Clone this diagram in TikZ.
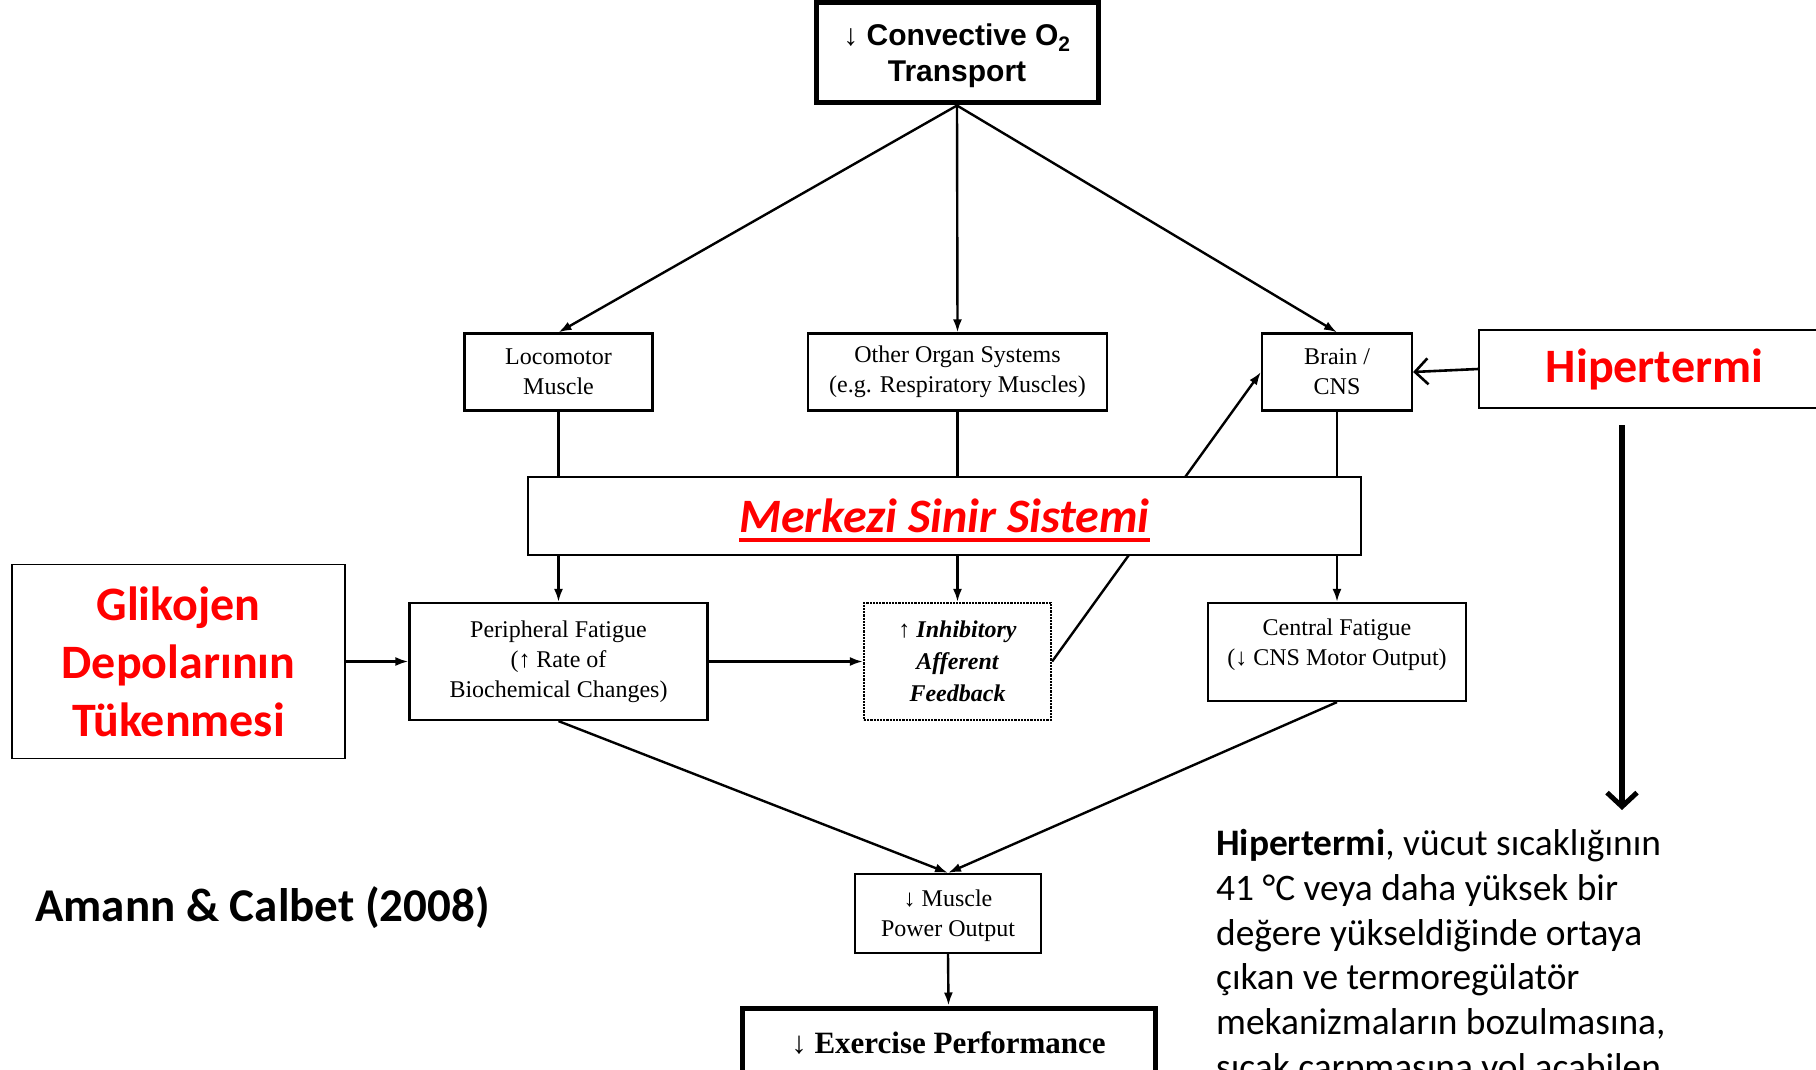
\documentclass[tikz,border=0pt]{standalone}
\usepackage{fontspec}
\setmainfont{Liberation Serif}
\newfontfamily\headsans{Liberation Sans}
\newfontfamily\calibri{Carlito}
\usetikzlibrary{arrows.meta}
\newcommand{\thickul}[1]{\setbox0\hbox{#1}\rlap{\rule[-9pt]{\wd0}{3.5pt}}\box0}

\begin{document}
\begin{tikzpicture}[x=1pt,y=-1pt,
    box/.style={draw,line width=2.2pt,inner sep=0pt,align=center,font=\fontsize{24}{30}\selectfont},
    thickbox/.style={draw,line width=5pt,inner sep=0pt,align=center},
    redbox/.style={draw,line width=1.8pt,inner sep=0pt,align=center,text=red,font=\calibri\bfseries\fontsize{48}{58}\selectfont},
    arr/.style={line width=2.4pt,-{Latex[length=13pt,width=9pt]}},
    barb/.style={line width=2.6pt,-{Straight Barb[length=13pt,width=26pt,line width=2.6pt]}}]
    \useasboundingbox (0,0) rectangle (1816,1070);

    % flow chart
    \node[thickbox,minimum width=282pt,minimum height=100pt,text depth=0pt,font=\headsans\bfseries\fontsize{30}{36}\selectfont] (cot) at (957,53) {↓ Convective O\textsubscript{2}\\Transport};

    \node[box,minimum width=188pt,minimum height=77pt] (loco) at (558.5,372) {Locomotor\\Muscle};
    \node[box,minimum width=299pt,minimum height=77pt] (oos) at (957.5,372) {Other Organ Systems\\(e.g. Respiratory Muscles)};
    \node[box,minimum width=150pt,minimum height=77pt] (cns) at (1337,372) {Brain /\\CNS};

    \node[box,minimum width=298pt,minimum height=117pt] (pfat) at (558.5,661.5) {Peripheral Fatigue\\(↑ Rate of\\Biochemical Changes)};
    \node[box,densely dotted,minimum width=187pt,minimum height=117pt,font=\bfseries\itshape\fontsize{24}{32}\selectfont] (iaf) at (957.5,661.5) {↑ Inhibitory\\Afferent\\Feedback};
    \node[box,minimum width=258pt,minimum height=98pt,text depth=19pt] (cfat) at (1337,652) {Central Fatigue\\(↓ CNS Motor Output)};

    \node[box,minimum width=186pt,minimum height=79pt,text depth=0pt] (mpo) at (948,913.5) {↓ Muscle\\Power Output};
    \node[thickbox,minimum width=413pt,minimum height=70pt,font=\bfseries\fontsize{31}{37}\selectfont] (exp) at (948.5,1043) {↓ Exercise Performance};

    % added notes
    \node[redbox,minimum width=333pt,minimum height=194pt] (glik) at (178.5,661.5) {Glikojen\\Depolarının\\Tükenmesi};
    \node[redbox,minimum width=351pt,minimum height=78pt] (hip) at (1654.5,369) {Hipertermi};

    \node[anchor=west,inner sep=0pt,font=\calibri\bfseries\fontsize{47}{56}\selectfont] (ref) at (35,908) {Amann \& Calbet (2008)};
    \node[anchor=north west,inner sep=0pt,align=left,font=\calibri\fontsize{37.4}{44.8}\selectfont] (hiptxt) at (1216,829) {\textbf{Hipertermi}, vücut sıcaklığının\\41 °C veya daha yüksek bir\\değere yükseldiğinde ortaya\\çıkan ve termoregülatör\\mekanizmaların bozulmasına,\\sıcak çarpmasına yol açabilen};

    \draw[arr] (cot.south) -- (loco.north);
    \draw[arr] (cot.south) -- (oos.north);
    \draw[arr] (cot.south) -- (cns.north);
    \draw[arr] (loco.south) -- (pfat.north);
    \draw[arr] (oos.south) -- (iaf.north);
    \draw[arr] (cns.south) -- (cfat.north);
    \draw[arr] (glik.east) -- (pfat.west);
    \draw[arr] (pfat.east) -- (iaf.west);
    \draw[arr] (iaf.east) -- (cns.west);
    \draw[arr] (pfat.south) -- (mpo.north);
    \draw[arr] (cfat.south) -- (mpo.north);
    \draw[arr] (mpo.south) -- (exp.north);
    \draw[barb] (hip.west) -- (cns.east);

    \coordinate (hdown) at (1622,425);
    \coordinate (hdownend) at (1622,810);
    \draw[line width=6pt,-{Straight Barb[length=14pt,width=30pt,line width=5pt]}] (hdown) -- (hdownend);

    % bar over the lines
    \node[draw,fill=white,line width=2.2pt,minimum width=833pt,minimum height=78pt,text depth=0pt,text=red,font=\calibri\bfseries\itshape\fontsize{48}{58}\selectfont] (mss) at (944.5,516) {\thickul{Merkezi Sinir Sistemi}};
\end{tikzpicture}
\end{document}
